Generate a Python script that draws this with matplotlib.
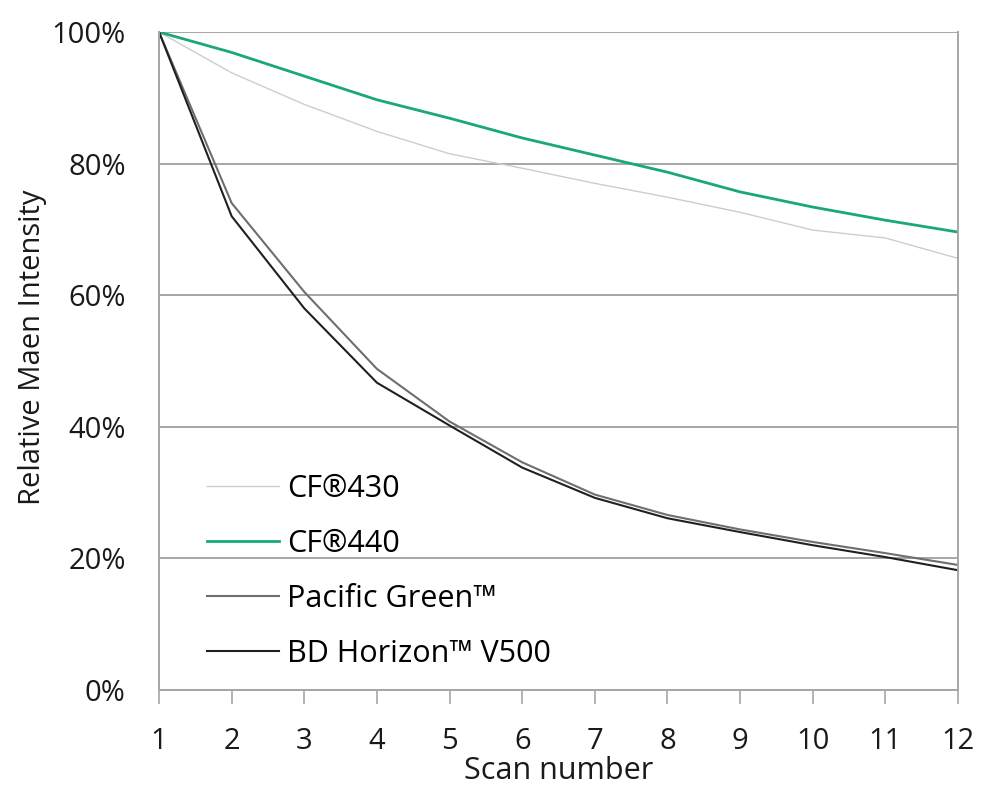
import matplotlib.pyplot as plt
from matplotlib.ticker import FuncFormatter

scans = [1, 2, 3, 4, 5, 6, 7, 8, 9, 10, 11, 12]
cf430 = [100, 93.8, 89.0, 84.9, 81.5, 79.3, 77.0, 74.9, 72.6, 69.9, 68.7, 65.6]
cf440 = [100, 96.9, 93.3, 89.7, 86.9, 83.9, 81.3, 78.7, 75.7, 73.4, 71.4, 69.6]
pacific = [100, 74.0, 60.5, 48.8, 40.8, 34.6, 29.7, 26.6, 24.4, 22.5, 20.8, 19.0]
horizon = [100, 72.0, 58.0, 46.7, 40.2, 33.8, 29.2, 26.1, 24.0, 22.0, 20.2, 18.2]
y_ticks = [0, 20, 40, 60, 80, 100]

plt.rcParams['font.family'] = ['Open Sans', 'DejaVu Sans']

fig = plt.figure(figsize=(9.94, 7.95), dpi=100)
ax = fig.add_axes([0.16, 0.1321, 0.8038, 0.8276])

ax.plot(scans, cf430, color='#c8cfcf', lw=1.0, label='CF®430')
ax.plot(scans, cf440, color='#1aa874', lw=2.0, label='CF®440')
ax.plot(scans, pacific, color='#6e6e6e', lw=1.5, label='Pacific Green™')
ax.plot(scans, horizon, color='#202020', lw=1.5, label='BD Horizon™ V500')

ax.set_xlim(1, 12)
ax.set_ylim(0, 100)
ax.set_xticks(scans)
ax.set_yticks(y_ticks)
ax.yaxis.set_major_formatter(FuncFormatter(lambda v, p: f'{int(v)}%'))
ax.grid(axis='y', color='#a6a6a6', lw=1.4)
ax.set_axisbelow(True)

ax.spines['top'].set_visible(False)
for s in ['left', 'right', 'bottom']:
    ax.spines[s].set_color('#a6a6a6')
    ax.spines[s].set_linewidth(1.4)

ax.tick_params(axis='x', direction='out', length=10, width=1.2, color='#a6a6a6',
               labelsize=21, pad=17, labelcolor='#1a1a1a')
ax.tick_params(axis='y', length=0, labelsize=21, pad=24, labelcolor='#1a1a1a')

ax.set_xlabel('Scan number', fontsize=22, labelpad=0, color='#1a1a1a')
ax.set_ylabel('Relative Maen Intensity', fontsize=21, color='#1a1a1a')
ax.yaxis.set_label_coords(-0.14, 0.521)

ax.legend(loc='lower left', bbox_to_anchor=(0.06, 0.032), frameon=False,
          borderpad=0, borderaxespad=0,
          fontsize=22, handlelength=2.35, handletextpad=0.28, labelspacing=0.82)

fig.savefig('out.png', dpi=100)
